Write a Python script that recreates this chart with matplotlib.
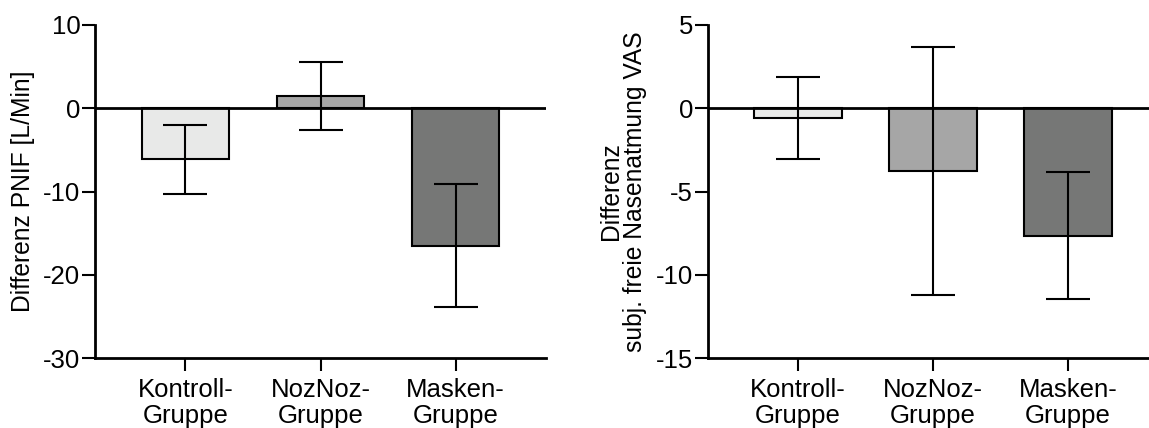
import numpy as np
import matplotlib
matplotlib.use('Agg')
import matplotlib.pyplot as plt

plt.rcParams['font.family'] = ['Liberation Sans', 'DejaVu Sans']
plt.rcParams['axes.unicode_minus'] = False

groups = ['Kontroll-\nGruppe', 'NozNoz-\nGruppe', 'Masken-\nGruppe']
colors = ['#e8e9e8', '#a6a6a6', '#767776']

# Differenz PNIF [L/Min]
pnif_mean = [-6.15, 1.45, -16.5]
pnif_err = [4.15, 4.05, 7.4]

# Differenz subj. freie Nasenatmung VAS
vas_mean = [-0.6, -3.75, -7.65]
vas_err = [2.45, 7.45, 3.8]


def draw_panel(ax, means, errs, ylim, yticks, ylabel):
    x = np.arange(len(groups))
    ax.bar(x, means, width=0.65, color=colors, edgecolor='black',
           linewidth=1.5, zorder=2)
    ax.errorbar(x, means, yerr=errs, fmt='none', ecolor='black',
                elinewidth=1.5, capsize=16, capthick=1.5, zorder=3)
    ax.axhline(0, color='black', linewidth=2, zorder=4)
    ax.set_xlim(-0.67, 2.67)
    ax.set_ylim(*ylim)
    ax.set_yticks(yticks)
    ax.set_xticks(x)
    ax.set_xticklabels(groups, fontsize=18.5, linespacing=1.08)
    ax.tick_params(axis='y', labelsize=18.5, length=9.5, width=1.5, pad=1)
    ax.tick_params(axis='x', length=9.5, width=1.5, pad=5)
    for s in ['top', 'right']:
        ax.spines[s].set_visible(False)
    for s in ['left', 'bottom']:
        ax.spines[s].set_linewidth(2)
    ax.set_ylabel(ylabel, fontsize=17.7, linespacing=1.0, labelpad=6)


fig = plt.figure(figsize=(11.49, 4.28), dpi=100)
ax1 = fig.add_axes([95 / 1149, 1 - 358 / 428, 451 / 1149, 333 / 428])
ax2 = fig.add_axes([707.5 / 1149, 1 - 358 / 428, 451 / 1149, 333 / 428])

draw_panel(ax1, pnif_mean, pnif_err, (-30, 10), [-30, -20, -10, 0, 10],
           'Differenz PNIF [L/Min]')
draw_panel(ax2, vas_mean, vas_err, (-15, 5), [-15, -10, -5, 0, 5],
           'Differenz\nsubj. freie Nasenatmung VAS')

fig.savefig('out.png', dpi=100)
